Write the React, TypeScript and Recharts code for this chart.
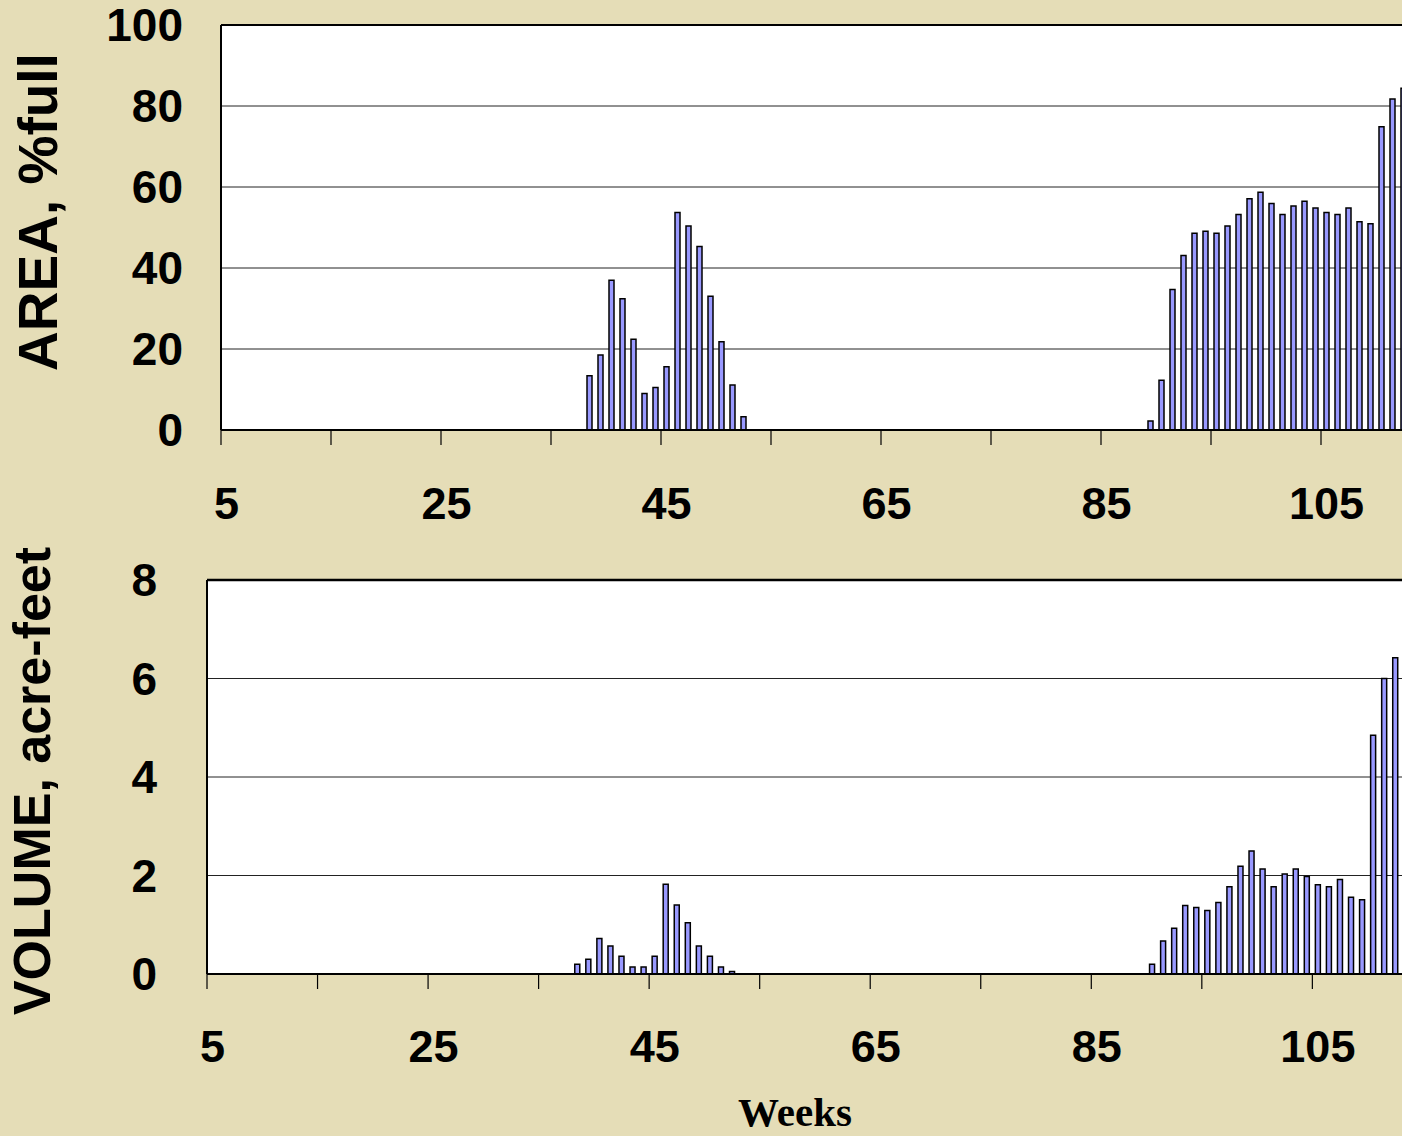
import { BarChart, Bar, XAxis, YAxis, CartesianGrid, ReferenceLine } from "recharts";

// weeks on the category axis (chart runs off the right edge of the slide)
const FIRST_WEEK = 5;
const LAST_WEEK = 116;
const WEEKS = Array.from({ length: LAST_WEEK - FIRST_WEEK + 1 }, (_, i) => FIRST_WEEK + i);

// spring pulse starts week 38, fall filling starts week 89
const SPRING_START = 38;
const FALL_START = 89;

const AREA_SPRING = [13.4, 18.5, 37, 32.4, 22.4, 9.0, 10.5, 15.6, 53.7, 50.4, 45.3, 33.0, 21.8, 11.1, 3.3];
const AREA_FALL = [
  2.2, 12.3, 34.7, 43.1, 48.6, 49.1, 48.6, 50.4, 53.2, 57.1, 58.7, 55.9, 53.2, 55.3, 56.5, 54.8, 53.7, 53.2,
  54.8, 51.4, 50.9, 74.9, 81.7, 84.4,
];

const VOLUME_SPRING = [0.2, 0.3, 0.72, 0.57, 0.36, 0.14, 0.14, 0.36, 1.82, 1.4, 1.04, 0.57, 0.36, 0.14, 0.05];
const VOLUME_FALL = [
  0, 0.2, 0.67, 0.93, 1.39, 1.35, 1.29, 1.45, 1.77, 2.19, 2.5, 2.13, 1.77, 2.03, 2.13, 1.98, 1.81, 1.77, 1.92,
  1.56, 1.51, 4.85, 6.0, 6.42,
];

const AREA_TICKS = [0, 20, 40, 60, 80, 100];
const VOLUME_TICKS = [0, 2, 4, 6, 8];

const BG = "#E5DDB7";
const BAR_FILL = "#9999FF";
const FONT = "'Liberation Sans', Arial, sans-serif";

function pick(arr: number[], start: number, week: number) {
  return week >= start && week < start + arr.length ? arr[week - start] : 0;
}

const data = WEEKS.map((week) => ({
  week,
  area: pick(AREA_SPRING, SPRING_START, week) || pick(AREA_FALL, FALL_START, week),
  volume: pick(VOLUME_SPRING, SPRING_START, week) || pick(VOLUME_FALL, FALL_START, week),
}));

// tick marks sit between categories every 10 weeks, labels every 20 weeks
function WeekTick(props: any) {
  const { x, y, payload, band, labelDy } = props;
  const k = payload.value - FIRST_WEEK;
  return (
    <g>
      {k % 10 === 0 && (
        <line x1={x - band / 2} x2={x - band / 2} y1={y} y2={y + 15} stroke="#000" strokeWidth={1.2} />
      )}
      {k % 20 === 0 && (
        <text
          x={x}
          y={y + labelDy}
          dy="0.36em"
          textAnchor="middle"
          fontFamily={FONT}
          fontWeight="bold"
          fontSize={45}
          fill="#000"
        >
          {payload.value}
        </text>
      )}
    </g>
  );
}

const yTick = { fontFamily: FONT, fontWeight: "bold", fontSize: 46, fill: "#000" };

export default function App() {
  return (
    <div
      style={{
        position: "absolute",
        left: 0,
        top: 0,
        width: 1402,
        height: 1136,
        overflow: "hidden",
        background: BG,
      }}
    >
      <div style={{ position: "absolute", left: 0, top: 0 }}>
        <BarChart width={1453} height={540} data={data} margin={{ top: 25, right: 0, bottom: 0, left: 0 }}>
          <CartesianGrid vertical={false} stroke="#222" strokeWidth={1} fill="#fff" />
          <XAxis
            dataKey="week"
            interval={0}
            height={110}
            tickSize={0}
            tickMargin={0}
            tickLine={false}
            axisLine={{ stroke: "#000", strokeWidth: 2 }}
            tick={<WeekTick band={11} labelDy={73} />}
          />
          <YAxis
            width={221}
            domain={[0, 100]}
            ticks={AREA_TICKS}
            interval={0}
            tickSize={0}
            tickMargin={38}
            tickLine={false}
            axisLine={{ stroke: "#000", strokeWidth: 2 }}
            tick={yTick}
          />
          <ReferenceLine y={100} stroke="#000" strokeWidth={2} />
          <Bar dataKey="area" fill={BAR_FILL} stroke="#000" strokeWidth={1.5} barSize={5} isAnimationActive={false} />
        </BarChart>
      </div>

      <div style={{ position: "absolute", left: 0, top: 555 }}>
        <BarChart width={1445} height={529} data={data} margin={{ top: 25, right: 0, bottom: 0, left: 0 }}>
          <CartesianGrid vertical={false} stroke="#222" strokeWidth={1} fill="#fff" />
          <XAxis
            dataKey="week"
            interval={0}
            height={110}
            tickSize={0}
            tickMargin={0}
            tickLine={false}
            axisLine={{ stroke: "#000", strokeWidth: 2 }}
            tick={<WeekTick band={11.05} labelDy={72} />}
          />
          <YAxis
            width={207}
            domain={[0, 8]}
            ticks={VOLUME_TICKS}
            interval={0}
            tickSize={0}
            tickMargin={50}
            tickLine={false}
            axisLine={{ stroke: "#000", strokeWidth: 2 }}
            tick={yTick}
          />
          <ReferenceLine y={8} stroke="#000" strokeWidth={2.5} />
          <Bar dataKey="volume" fill={BAR_FILL} stroke="#000" strokeWidth={1.5} barSize={5} isAnimationActive={false} />
        </BarChart>
      </div>

      <svg
        width={1402}
        height={1136}
        style={{ position: "absolute", left: 0, top: 0, pointerEvents: "none" }}
      >
        <text
          transform="translate(57, 212) rotate(-90)"
          textAnchor="middle"
          fontFamily={FONT}
          fontWeight="bold"
          fontSize={55}
          fill="#000"
        >
          AREA, %full
        </text>
        <text
          transform="translate(50, 781) rotate(-90)"
          textAnchor="middle"
          fontFamily={FONT}
          fontWeight="bold"
          fontSize={52}
          letterSpacing={0}
          fill="#000"
        >
          VOLUME, acre-feet
        </text>
        <text
          x={795}
          y={1126}
          textAnchor="middle"
          fontFamily="'Liberation Serif', 'Times New Roman', serif"
          fontWeight="bold"
          fontSize={41}
          fill="#000"
        >
          Weeks
        </text>
      </svg>
    </div>
  );
}
